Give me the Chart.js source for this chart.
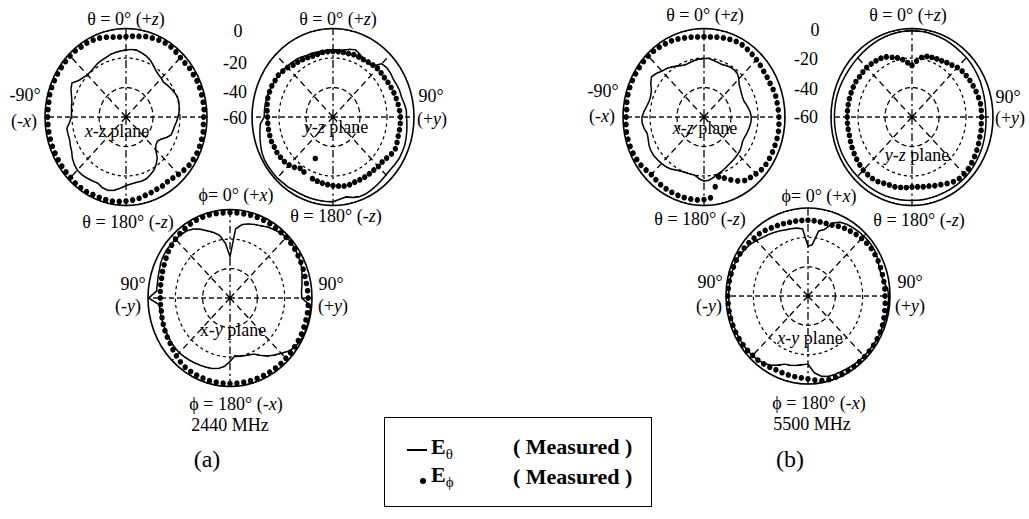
<!DOCTYPE html>
<html><head><meta charset="utf-8">
<script src="https://cdn.jsdelivr.net/npm/chart.js@4.4.1/dist/chart.umd.min.js"></script>
<style>
html,body{margin:0;padding:0;background:#fff;}
#page{position:relative;width:1029px;height:519px;overflow:hidden;font-family:"Liberation Serif","DejaVu Serif","Noto Serif",serif;color:#000;background:#fff;}
.plot{position:absolute;transform-origin:50% 50%;}
.plot canvas{display:block;}
.t{position:absolute;white-space:nowrap;font-size:18px;line-height:1;transform:translate(-50%,-50%);font-family:"Liberation Serif","DejaVu Serif",serif;}
.l{position:absolute;white-space:nowrap;line-height:1;transform:translateY(-50%);font-weight:bold;font-family:"Liberation Serif","DejaVu Serif",serif;}
.l sub{font-size:15px;font-weight:normal;vertical-align:-5px;}
</style></head>
<body><div id="page">
<!-- (a) 2440 MHz labels -->
<div class="t" style="left:126px;top:19px">θ = 0° (+<i>z</i>)</div>
<div class="t" style="left:25px;top:95px">-90°</div>
<div class="t" style="left:24px;top:121px">(-<i>x</i>)</div>
<div class="t" style="left:117px;top:131px"><i>x-z</i> plane</div>
<div class="t" style="left:128px;top:222px">θ = 180° (-<i>z</i>)</div>
<div class="t" style="left:238px;top:31px">0</div>
<div class="t" style="left:235px;top:63px">-20</div>
<div class="t" style="left:235px;top:92px">-40</div>
<div class="t" style="left:235px;top:118px">-60</div>
<div class="t" style="left:338px;top:19px">θ = 0° (+<i>z</i>)</div>
<div class="t" style="left:431px;top:96px">90°</div>
<div class="t" style="left:432px;top:119px">(+<i>y</i>)</div>
<div class="t" style="left:336px;top:127px"><i>y-z</i> plane</div>
<div class="t" style="left:336px;top:216px">θ = 180° (-<i>z</i>)</div>
<div class="t" style="left:236px;top:195px">ϕ= 0° (+<i>x</i>)</div>
<div class="t" style="left:133px;top:284px">90°</div>
<div class="t" style="left:128px;top:306px">(-<i>y</i>)</div>
<div class="t" style="left:331px;top:284px">90°</div>
<div class="t" style="left:333px;top:306px">(+<i>y</i>)</div>
<div class="t" style="left:233px;top:330px">x-<i>y</i> plane</div>
<div class="t" style="left:236px;top:404px">ϕ = 180° (-<i>x</i>)</div>
<div class="t" style="left:230px;top:425px">2440 MHz</div>
<div class="t" style="left:207px;top:459px;font-size:24px">(a)</div>
<!-- (b) 5500 MHz labels -->
<div class="t" style="left:705px;top:15px">θ = 0° (+<i>z</i>)</div>
<div class="t" style="left:603px;top:91px">-90°</div>
<div class="t" style="left:602px;top:116px">(-<i>x</i>)</div>
<div class="t" style="left:705px;top:128px"><i>x-z</i> plane</div>
<div class="t" style="left:700px;top:219px">θ = 180° (-<i>z</i>)</div>
<div class="t" style="left:815px;top:30px">0</div>
<div class="t" style="left:806px;top:59px">-20</div>
<div class="t" style="left:806px;top:89px">-40</div>
<div class="t" style="left:806px;top:117px">-60</div>
<div class="t" style="left:908px;top:15px">θ = 0° (+<i>z</i>)</div>
<div class="t" style="left:1008px;top:97px">90°</div>
<div class="t" style="left:1010px;top:118px">(+<i>y</i>)</div>
<div class="t" style="left:917px;top:155px"><i>y-z</i> plane</div>
<div class="t" style="left:919px;top:220px">θ = 180° (-<i>z</i>)</div>
<div class="t" style="left:819px;top:196px">ϕ= 0° (+<i>x</i>)</div>
<div class="t" style="left:710px;top:282px">90°</div>
<div class="t" style="left:709px;top:306px">(-<i>y</i>)</div>
<div class="t" style="left:910px;top:282px">90°</div>
<div class="t" style="left:910px;top:306px">(+<i>y</i>)</div>
<div class="t" style="left:810px;top:338px"><i>x-y</i> plane</div>
<div class="t" style="left:819px;top:403px">ϕ = 180° (-<i>x</i>)</div>
<div class="t" style="left:812px;top:424px">5500 MHz</div>
<div class="t" style="left:790px;top:459px;font-size:24px">(b)</div>
<!-- legend -->
<div style="position:absolute;left:384px;top:417px;width:266px;height:88px;border:1.5px solid #000;"></div>
<div style="position:absolute;left:407px;top:449px;width:20px;height:2px;background:#000"></div>
<div class="l" style="left:431px;top:449px;font-size:22px">E<sub>θ</sub></div>
<div class="l" style="left:513px;top:447px;font-size:22px">( Measured )</div>
<div style="position:absolute;left:420px;top:478px;width:6px;height:6px;border-radius:50%;background:#000"></div>
<div class="l" style="left:431px;top:477px;font-size:22px">E<sub>ϕ</sub></div>
<div class="l" style="left:513px;top:477px;font-size:22px">( Measured )</div>
</div>
<script>
// angle categories (degrees, clockwise from the top of each pattern)
const angles = [0,5,10,15,20,25,30,35,40,45,50,55,60,65,70,75,80,85,90,95,100,105,110,115,
  120,125,130,135,140,145,150,155,160,165,170,175,180,185,190,195,200,205,210,215,220,225,230,235,
  240,245,250,255,260,265,270,275,280,285,290,295,300,305,310,315,320,325,330,335,340,345,350,355];
// radial tick labels (dB)
const rTicks = ['0','-20','-40','-60'];

// 2440 MHz, x-z plane
const xz2440Theta = [-14.5,-14,-14,-15,-16,-17.5,-19.5,-21.5,-22.5,-23,-23.5,-22.5,
  -21.5,-20.5,-19.5,-19.5,-20,-20.5,-21.5,-22.5,-23.5,-24,-24.5,-27,
  -30,-31.5,-31,-29,-24,-21,-18.5,-17,-15.5,-15,-15,-14.5,
  -13.5,-11.5,-9.5,-8.5,-9,-10.5,-10,-9.5,-9,-9,-10,-11.5,
  -13.5,-14.5,-15.5,-15.5,-15.5,-18,-19.5,-19.5,-19,-18.5,-17,-15,
  -13.8,-17,-18.5,-19.5,-19.5,-19,-18,-17.5,-17,-16,-15.5,-15];
const xz2440Phi = [-5.5,-5,-4.5,-3.5,-3,-2.5,-2,-2,-2.5,-3,-3,-2.5,
  -2.5,-2,-2,-2,-2,-2,-2.5,-2.5,-2,-2,-2,-2,
  -2.5,-3,-4,-5,-6,-6.5,-6,-6,-5.5,-5,-4,-3.5,
  -3,-2.5,-2,-2,-2,-2,-1.5,-1.5,-1.5,-2,-2,-2,
  -2,-2,-2,-2,-2,-2,-2,-2,-2,-1.5,-1.5,-1.5,
  -1.5,-1.5,-1.5,-1.5,-1.5,-2,-2,-2.5,-3,-4,-5,-5.5];
// 2440 MHz, y-z plane
const yz2440Theta = [-14.5,-14.5,-14,-12.5,-11.5,-13,-14.5,-15,-15,-9,-8,-8,
  -8.5,-8,-7.5,-7.5,-6.5,-5.5,-5.5,-5,-4.5,-4,-3.5,-3.5,
  -3.5,-4,-4.5,-4.5,-4,-3.5,-3,-2.5,-2.5,-3.5,-5,-4,
  -2.5,-2.5,-2.5,-2.5,-2.5,-2.5,-2.5,-2,-2,-1.5,-1.5,-1.5,
  -1.5,-2,-3,-4,-5,-6,-9,-9,-9,-9,-9.5,-10,
  -10.5,-11,-11,-11.5,-12,-12.5,-13,-14,-14,-14.5,-14.5,-14.5];
const yz2440Phi = [-15.5,-15.5,-15.5,-15.5,-15,-15,-15,-14.5,-14,-13.5,-13.5,-13.5,
  -13,-12.5,-12,-11.5,-11,-10.5,-10,-10,-10,-10,-9.5,-9,
  -10,-11.5,-12.5,-12.5,-13,-13,-13,-13,-13,-12.5,-12.5,-13,
  -13.5,-14,-14.5,-15,-15.5,-29,-17,-17.5,-15.5,-14,-13,-12.5,
  -12,-12,-11.5,-11.5,-11.5,-11.5,-11.5,-11,-10.5,-10,-10,-10,
  -10.5,-10.5,-11.5,-12.5,-14,-14.5,-15,-15.5,-16,-16,-15.5,-15.5];
// 2440 MHz, x-y plane
const xy2440Theta = [-32,-13,-9.5,-8,-7,-6,-4.5,-3.5,-2.5,-1.5,-1.5,-2,
  -2.5,-3,-4,-5.5,-6.5,-7.5,-7.5,-1,-0.5,-0.5,-0.5,-0.5,
  -1,-2,-4,-7,-9.5,-12,-15,-18,-19,-19.5,-20,-20.5,
  -17,-13.5,-11.5,-10.5,-10,-9.5,-9,-8.5,-8,-7.5,-7.5,-7.5,
  -8,-8,-8,-8,-8,-8,-0.5,-6,-6,-5.5,-5,-4,
  -3.5,-3.3,-3.5,-3.6,-4,-4.5,-6,-8.5,-11.5,-14,-17,-23];
const xy2440Phi = [-2,-2,-2,-1.8,-1.8,-1.8,-1.8,-2,-2,-2,-2,-2.2,
  -2.5,-2.8,-3,-3.2,-3.2,-3,-2.8,-2.6,-2.5,-2.5,-2.5,-2.3,
  -2.3,-2.3,-2.2,-2.2,-2,-2,-2,-2,-2,-2,-2,-2,
  -2,-2,-2,-2,-2.2,-2.3,-2.5,-2.8,-3.5,-4.5,-5.5,-6.5,
  -7,-7.5,-8,-8.5,-9,-9,-9,-8.8,-8.5,-8.2,-7.5,-6.8,
  -6,-5,-4.3,-3.6,-3,-2.5,-2,-1.7,-1.6,-1.6,-1.8,-2];
// 5500 MHz, x-z plane
const xz5500Theta = [-20.5,-20,-21,-21.5,-22,-21.5,-21,-21,-21.5,-23.5,-26,-27,
  -28,-28.5,-28.5,-27.5,-26.5,-25.5,-25,-25,-25.5,-26,-26.5,-27,
  -27,-26,-25,-24.5,-24,-23.5,-23,-22,-21,-20,-18.5,-17,
  -16.5,-18,-20,-20,-20,-19.5,-18.5,-17,-16,-15.5,-15,-14.5,
  -14.5,-15,-16,-16.5,-15,-14,-14,-15.5,-17,-18,-18,-17,
  -14.5,-12.5,-14,-16,-17,-18.5,-20,-21.5,-22,-21.5,-21,-20.5];
const xz5500Phi = [-5.5,-5.5,-5,-4.5,-4,-3.5,-3.5,-4,-4.5,-5,-5.5,-6,
  -6,-6,-5.5,-5,-5,-4.8,-4.5,-4.3,-4,-4,-4,-4,
  -4,-4,-4.5,-5.5,-6.5,-7.5,-10,-13,-16,-18,-12,-5,
  -4,-3.6,-3.5,-3.5,-3.5,-3.6,-3.8,-4,-4.5,-4.8,-4,-3,
  -2.5,-2,-1.8,-1.7,-1.7,-2,-2.3,-2.5,-2,-1.7,-1.5,-1.5,
  -1.5,-1.5,-1.5,-1.6,-1.8,-2.2,-2.7,-3,-3.7,-4.5,-5,-5.5];
// 5500 MHz, y-z plane
const yz5500Theta = [-1.5,-1.5,-1.5,-1.8,-2,-2.2,-2.5,-2.8,-3,-3,-3.2,-3.5,
  -3.8,-4,-4.5,-4.8,-5,-5.2,-5.2,-5,-4.8,-4.5,-4.2,-4,
  -3.8,-3.5,-3.3,-3.2,-3.2,-3.3,-3.4,-3.5,-3.5,-3.5,-3.4,-3.4,
  -3.4,-3.3,-3.2,-3.2,-3,-3,-3,-3,-3,-3,-2.8,-2.7,
  -2.6,-2.5,-2.5,-2.5,-2.5,-2.5,-2.5,-2.5,-2.5,-2.6,-2.8,-3,
  -3.2,-3.3,-3.3,-3.2,-3,-2.8,-2.5,-2.2,-2,-1.8,-1.6,-1.5];
const yz5500Phi = [-25,-22,-19,-17.5,-17,-16.5,-16,-15,-14,-12.5,-11.5,-11,
  -10.5,-10,-9.5,-9,-8.5,-8.5,-8.5,-8.5,-8,-8,-7.5,-7,
  -6.5,-6,-5.5,-5.5,-5.5,-6.5,-8,-9.5,-10.5,-11.5,-12,-12.5,
  -12.5,-12,-11.5,-11,-11,-10.5,-9.5,-9,-9,-9,-9.5,-10,
  -10.5,-11,-11.5,-12,-12,-12,-12,-12,-12,-12,-12,-12,
  -12,-12.5,-12.5,-12.5,-13,-13.5,-14,-15,-17,-18.5,-20.5,-23];
// 5500 MHz, x-y plane
const xy5500Theta = [-26,-25,-15,-13,-7,-4.5,-3.5,-3,-2.5,-2.2,-2,-2,
  -2.2,-3.5,-4.5,-4.5,-4,-1.5,-1,-1,-1,-1.2,-1.5,-1.5,
  -1.5,-1.8,-2,-2,-2.2,-2.5,-2.8,-3,-3,-3.2,-4.5,-7.5,
  -13.5,-13,-12,-11,-10.5,-8,-5.5,-4,-3,-2.5,-2.2,-2,
  -2,-2,-2,-2,-2,-2,-2,-2,-2,-2,-2,-2,
  -3,-4,-5,-6.5,-8,-9,-10,-11,-12,-12.5,-13,-14];
const xy5500Phi = [-8.3,-8.5,-8.7,-8.7,-8.5,-7.5,-6.6,-6,-5.2,-4.5,-4,-3.5,
  -3.4,-3.4,-3.5,-3.6,-3.6,-3.6,-3.6,-3.3,-3,-2.5,-2,-1.8,
  -1.6,-1.5,-1.5,-1.5,-1.5,-1.3,-1.2,-1.1,-1,-1,-1.5,-2.5,
  -3.5,-4,-4.2,-4.3,-4.4,-4.5,-4,-3.5,-3,-2.7,-2.3,-2,
  -1.8,-1.6,-1.5,-1.4,-1.4,-1.4,-1.4,-1.5,-1.6,-1.8,-2,-2.2,
  -2.5,-3,-3.5,-4.2,-4.6,-5.4,-6.3,-7,-7.5,-8,-8.1,-8.3];

// layout of the six patterns (page pixels)
const layout = [
  {theta: xz2440Theta, phi: xz2440Phi, cx: 126, cy: 117, rx: 81, ry: 88.5},
  {theta: yz2440Theta, phi: yz2440Phi, cx: 333, cy: 117, rx: 81, ry: 88.5},
  {theta: xy2440Theta, phi: xy2440Phi, cx: 230, cy: 297.5, rx: 82, ry: 88.5},
  {theta: xz5500Theta, phi: xz5500Phi, cx: 704, cy: 117, rx: 81, ry: 88.5},
  {theta: yz5500Theta, phi: yz5500Phi, cx: 912, cy: 117, rx: 81, ry: 88.5},
  {theta: xy5500Theta, phi: xy5500Phi, cx: 807.5, cy: 296, rx: 82, ry: 88}
];

const page = document.getElementById('page');
const tickMin = Number(rTicks[rTicks.length - 1]);
const tickMax = Number(rTicks[0]);
const tickStep = Number(rTicks[0]) - Number(rTicks[1]);

layout.forEach(p => {
  const pad = 4;
  const size = 2 * (p.rx + pad);
  const div = document.createElement('div');
  div.className = 'plot';
  div.style.left = (p.cx - size / 2) + 'px';
  div.style.top = (p.cy - size / 2) + 'px';
  div.style.width = size + 'px';
  div.style.height = size + 'px';
  div.style.transform = 'scaleY(' + (p.ry / p.rx) + ')';
  const cv = document.createElement('canvas');
  cv.width = size; cv.height = size;
  cv.style.width = size + 'px'; cv.style.height = size + 'px';
  div.appendChild(cv);
  page.appendChild(div);
  new Chart(cv, {
    type: 'radar',
    data: {
      labels: angles,
      datasets: [
        {label: 'Eθ', data: p.theta, borderColor: '#000', borderWidth: 1.5, pointRadius: 0, pointHoverRadius: 0, fill: false},
        {label: 'Eϕ', data: p.phi, showLine: false, borderColor: '#000', backgroundColor: '#000',
          pointBackgroundColor: '#000', pointBorderColor: '#000', pointBorderWidth: 0, pointRadius: 2.7, pointHoverRadius: 2.7, fill: false}
      ]
    },
    options: {
      responsive: false,
      devicePixelRatio: 2,
      animation: false,
      events: [],
      layout: {padding: pad},
      plugins: {legend: {display: false}, tooltip: {enabled: false}},
      scales: {
        r: {
          min: tickMin, max: tickMax,
          ticks: {display: false, stepSize: tickStep},
          pointLabels: {display: false},
          grid: {
            circular: true,
            color: '#000',
            lineWidth: c => (c.tick && c.tick.value === 0) ? 1.6 : ((c.tick && c.tick.value > tickMin) ? 1.2 : 0)
          },
          border: {
            dash: c => (c.tick && c.tick.value === 0) ? [] : ((c.tick && c.tick.value === -20) ? [3, 3] : [5, 3])
          },
          angleLines: {
            display: true,
            color: '#000',
            lineWidth: c => (c.index % 9 === 0) ? 1.3 : 0,
            borderDash: c => {
              const a = (c.index * 5) % 180;
              return a === 0 ? [7, 3, 2, 3] : (a === 90 ? [5, 3] : [6, 4]);
            }
          }
        }
      }
    }
  });
});
</script>
</body></html>
